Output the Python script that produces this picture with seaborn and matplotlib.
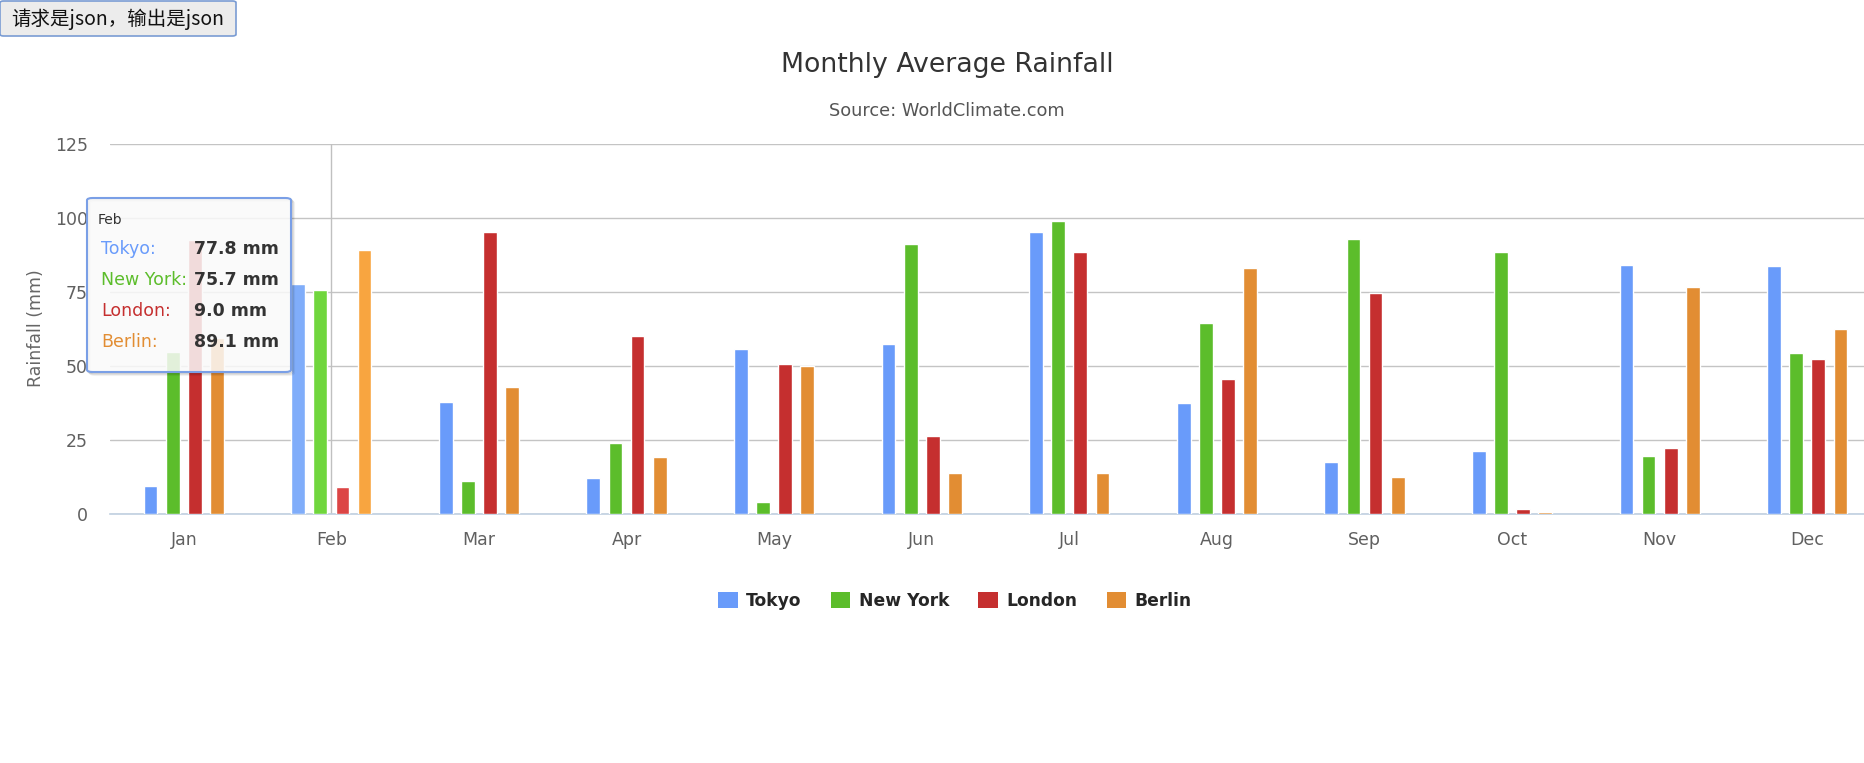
import pandas as pd
import matplotlib
matplotlib.use("Agg")
import matplotlib.pyplot as plt
import seaborn as sns
from matplotlib.patches import FancyBboxPatch, Patch

months = ["Jan", "Feb", "Mar", "Apr", "May", "Jun",
          "Jul", "Aug", "Sep", "Oct", "Nov", "Dec"]
cities = ["Tokyo", "New York", "London", "Berlin"]

tokyo = [9.6, 77.8, 38.0, 12.2, 55.7, 57.3, 95.3, 37.5, 17.7, 21.3, 84.1, 83.7]
new_york = [54.8, 75.7, 11.1, 23.9, 4.1, 91.2, 98.9, 64.4, 92.8, 88.6, 19.7, 54.3]
london = [92.6, 9.0, 95.3, 60.2, 50.6, 26.4, 88.6, 45.6, 74.5, 1.6, 22.3, 52.3]
berlin = [59.5, 89.1, 43.0, 19.3, 50.1, 13.7, 13.7, 83.1, 12.6, 0.6, 76.6, 62.4]

y_ticks = [0, 25, 50, 75, 100, 125]

hover_month = "Feb"

colors = {"Tokyo": "#699bfa", "New York": "#5cbd2b",
          "London": "#c52f2f", "Berlin": "#e28d33"}
hover_colors = {"Tokyo": "#80adfa", "New York": "#70d63d",
                "London": "#dc4545", "Berlin": "#f8a540"}

df = pd.DataFrame({
    "month": months * 4,
    "city": sum([[c] * 12 for c in cities], []),
    "rainfall": tokyo + new_york + london + berlin,
})

sns.set_style("white")
plt.rcParams["font.family"] = ["DejaVu Sans"]

W, H = 1865, 763
fig = plt.figure(figsize=(W / 100, H / 100), dpi=100)
ax = fig.add_axes([110 / W, 1 - 514 / H, 1771 / W, 370 / H])

sns.barplot(data=df, x="month", y="rainfall", hue="city", order=months,
            hue_order=cities, palette=colors, width=0.6, gap=0.38,
            saturation=1, ax=ax, zorder=3)
ax.get_legend().remove()

# hovered category gets the lighter colours
hi = months.index(hover_month)
for city, cont in zip(cities, ax.containers):
    cont.patches[hi].set_facecolor(hover_colors[city])

ax.set_xlim(-0.5, 11.5)
ax.set_ylim(0, 125)
ax.set_yticks(y_ticks)
ax.set_xlabel("")
ax.set_ylabel("")
ax.grid(axis="y", color="#c4c4c4", linewidth=1.0, zorder=0)
ax.set_axisbelow(True)
for s in ["top", "right", "left"]:
    ax.spines[s].set_visible(False)
ax.spines["bottom"].set_color("#c0d0e0")
ax.spines["bottom"].set_linewidth(1.2)

ax.tick_params(axis="y", length=0, pad=16, labelsize=12.5, labelcolor="#606060")
ax.tick_params(axis="x", which="major", length=0, pad=12, labelsize=12.5,
               labelcolor="#606060")
ax.set_xticks([i - 0.5 for i in range(13)], minor=True)
ax.tick_params(axis="x", which="minor", length=10, width=1, color="#c0d0e0")

# crosshair
ax.axvline(hi, color="#c0c0c0", linewidth=1, zorder=1)

fig.text(36 / W, 1 - 328 / H, "Rainfall (mm)", rotation=90, ha="center",
         va="center", fontsize=12.5, color="#666666")
fig.text(947 / W, 1 - 65 / H, "Monthly Average Rainfall", ha="center",
         va="center", fontsize=19.3, color="#333333")
fig.text(947 / W, 1 - 111 / H, "Source: WorldClimate.com", ha="center",
         va="center", fontsize=12.8, color="#555555")

handles = [Patch(facecolor=colors[c], edgecolor="none") for c in cities]
fig.legend(handles, cities, loc="center", bbox_to_anchor=(955 / W, 1 - 601 / H),
           ncol=4, frameon=False, handlelength=1.15, handleheight=1.1,
           handletextpad=0.5, columnspacing=1.7,
           prop={"weight": "bold", "size": 12.3})

# tooltip with a soft shadow
for dx, dy, a in [(3, 3, 0.05), (2, 2, 0.08), (1, 1, 0.1)]:
    fig.patches.append(FancyBboxPatch(
        ((87 + dx) / W, 1 - (372 + dy) / H), 204 / W, 174 / H,
        boxstyle="round,pad=0,rounding_size=0.003", transform=fig.transFigure,
        facecolor="none", edgecolor="black", alpha=a, linewidth=1.5, zorder=9))
tip = FancyBboxPatch((87 / W, 1 - 372 / H), 204 / W, 174 / H,
                     boxstyle="round,pad=0,rounding_size=0.003",
                     transform=fig.transFigure, facecolor="#fafafa", alpha=0.85,
                     edgecolor="none", zorder=10)
fig.patches.append(tip)
tip_edge = FancyBboxPatch((87 / W, 1 - 372 / H), 204 / W, 174 / H,
                          boxstyle="round,pad=0,rounding_size=0.003",
                          transform=fig.transFigure, facecolor="none",
                          edgecolor="#7a9fe6", linewidth=1.5, zorder=11)
fig.patches.append(tip_edge)
fig.text(98 / W, 1 - 220 / H, hover_month, ha="left", va="center",
         fontsize=10, color="#333333", zorder=12)
for k, c in enumerate(cities):
    yy = 1 - (249 + 31 * k) / H
    val = df[(df.city == c) & (df.month == hover_month)].rainfall.iloc[0]
    fig.text(101 / W, yy, c + ":", ha="left", va="center", fontsize=12.5,
             color=colors[c], zorder=12)
    fig.text(194 / W, yy, f"{val:.1f} mm", ha="left", va="center",
             fontsize=12.5, fontweight="bold", color="#333333", zorder=12)

# button at top left
btn = FancyBboxPatch((0, 1 - 36 / H), 236 / W, 35 / H,
                     boxstyle="round,pad=0,rounding_size=0.002",
                     transform=fig.transFigure, facecolor="#ececec",
                     edgecolor="#7a9cd3", linewidth=1.2, zorder=10)
fig.patches.append(btn)
fig.text(118 / W, 1 - 19 / H, "请求是json，输出是json", ha="center", va="center",
         fontsize=14, color="#111111",
         family=["Noto Sans CJK SC", "DejaVu Sans"], zorder=12)

fig.savefig("out.png", dpi=100)
